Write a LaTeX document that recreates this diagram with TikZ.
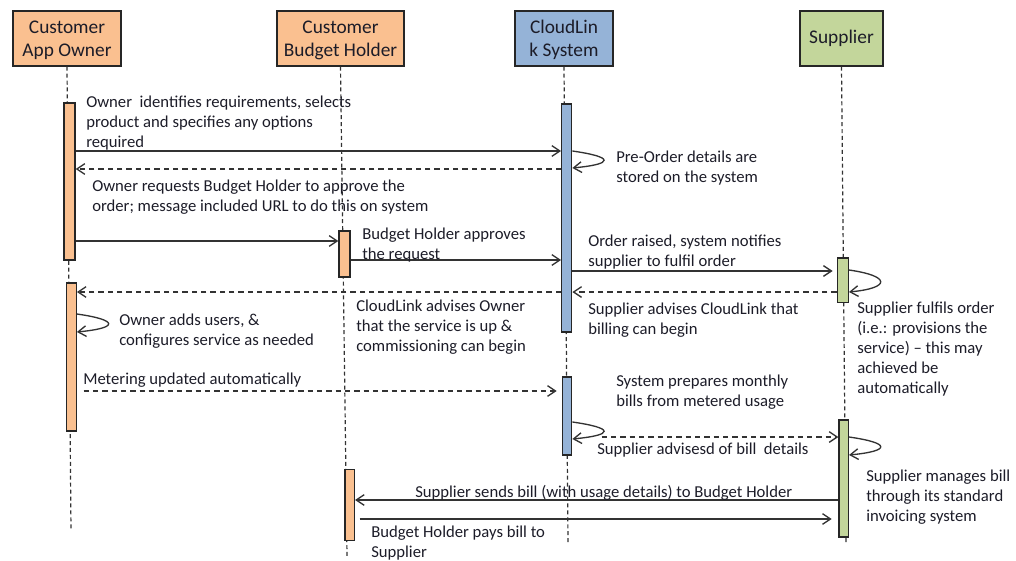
\documentclass[tikz,border=0pt]{standalone}
\usepackage{fontspec}
\setmainfont{Carlito}
\usetikzlibrary{arrows.meta,positioning,calc}
\definecolor{Oc}{HTML}{FAC090}
\definecolor{Bc}{HTML}{95B3D7}
\definecolor{Gc}{HTML}{C3D69B}
\definecolor{ink}{HTML}{333333}
\definecolor{txt}{HTML}{1C1C28}
\tikzset{
  party/.style={rectangle, draw=black!85, line width=1pt, inner sep=0pt, align=center,
    minimum height=41.25pt, font=\fontsize{14.5}{17.5}\selectfont, text=txt},
  actbar/.style={rectangle, draw=black!85, line width=1pt, inner sep=0pt},
  life/.style={draw=ink, line width=0.9pt, dash pattern=on 3pt off 2.2pt},
  msg/.style={draw=ink, line width=1pt, -{Straight Barb[length=6pt,width=8pt]}},
  rmsg/.style={msg, dash pattern=on 4pt off 3pt},
  lbl/.style={anchor=north west, inner sep=0pt, align=left,
    font=\fontsize{12.5}{15}\selectfont, text=txt},
}
\newcommand{\selfmsg}[3]{%
  \draw[msg] (#1.east |- 0,#2) .. controls +(42,6) and +(42,-4) .. (#1.east |- 0,#3);}

\begin{document}
\begin{tikzpicture}[x=0.75pt,y=-0.75pt]
  \useasboundingbox (0,0) rectangle (1016,560);
  % participants
  \node[party, fill=Oc, minimum width=81pt, text depth=0pt] (own) at (67,38.5) {Customer\\App Owner};
  \node[party, fill=Oc, minimum width=95.25pt, text depth=0pt] (bud) at (340.5,38.5) {Customer\\Budget Holder};
  \node[party, fill=Bc, minimum width=73.5pt, text depth=0pt] (cld) at (564,38.5) {CloudLin\\k System};
  \node[party, fill=Gc, minimum width=62.25pt] (sup) at (841.5,38.5) {Supplier};
  % lifelines
  \coordinate (ownEnd) at (71,531);
  \coordinate (budEnd) at (347,556);
  \coordinate (cldEnd) at (568,543);
  \coordinate (supEnd) at (846,545);
  \draw[life] (own.south) -- (ownEnd);
  \draw[life] (bud.south) -- (budEnd);
  \draw[life] (cld.south) -- (cldEnd);
  \draw[life] (sup.south) -- (supEnd);
  % activations
  \node[actbar, fill=Oc, minimum width=8.25pt, minimum height=117.75pt] (ob1) at (69.5,181.5) {};
  \node[actbar, fill=Oc, minimum width=7.1pt, minimum height=111pt] (ob2) at (71.5,357) {};
  \node[actbar, fill=Oc, minimum width=8.25pt, minimum height=34.5pt] (bb1) at (344.5,254) {};
  \node[actbar, fill=Oc, minimum width=7pt, minimum height=53.25pt] (bb2) at (349.7,505.3) {};
  \node[actbar, fill=Bc, minimum width=7.5pt, minimum height=171pt] (cb1) at (566.7,218) {};
  \node[actbar, fill=Bc, minimum width=6.75pt, minimum height=58.5pt] (cb2) at (567.2,416) {};
  \node[actbar, fill=Gc, minimum width=8.25pt, minimum height=33.5pt] (sb1) at (842.8,280.3) {};
  \node[actbar, fill=Gc, minimum width=7pt, minimum height=87.75pt] (sb2) at (843.7,478.5) {};
  % messages
  \draw[msg] (ob1.east |- 0,151) -- (cb1.west |- 0,151);
  \selfmsg{cb1}{151}{168}
  \draw[rmsg] (cb1.west |- 0,169) -- (ob1.east |- 0,169);
  \draw[msg] (ob1.east |- 0,241) -- (bb1.west |- 0,241);
  \draw[msg] (bb1.east |- 0,260) -- (cb1.west |- 0,260);
  \draw[msg, shorten >=3pt] (cb1.east |- 0,271) -- (sb1.west |- 0,271);
  \selfmsg{sb1}{270}{292}
  \draw[rmsg] (sb1.west |- 0,292) -- (cb1.east |- 0,292);
  \draw[rmsg] (cb1.west |- 0,292) -- (ob2.east |- 0,292);
  \selfmsg{ob2}{314}{332}
  \draw[rmsg, shorten <=5pt, shorten >=4pt] (ob2.east |- 0,391) -- (cb2.west |- 0,391);
  \selfmsg{cb2}{422}{439}
  \draw[rmsg, shorten <=22pt] (cb2.east |- 0,437) -- (sb2.west |- 0,437);
  \selfmsg{sb2}{437}{455}
  \draw[msg] (sb2.west |- 0,500) -- (bb2.east |- 0,500);
  \draw[msg, shorten <=3.5pt, shorten >=5pt] (bb2.east |- 0,519) -- (sb2.west |- 0,519);
  % labels
  \node[lbl] (tReq) at (86,96) {Owner\ \ identifies requirements, selects\\product and specifies any options\\required};
  \node[lbl] (tStore) at (616,151) {Pre-Order details are\\stored on the system};
  \node[lbl] (tAsk) at (92,180) {Owner requests Budget Holder to approve the\\order; message included URL to do this on system};
  \node[lbl] (tAppr) at (362,228) {Budget Holder approves\\the request};
  \node[lbl] (tOrder) at (588,235) {Order raised, system notifies\\supplier to fulfil order};
  \node[lbl] (tUp) at (356,300) {CloudLink advises Owner\\that the service is up \&\\commissioning can begin};
  \node[lbl] (tBill) at (588,303) {Supplier advises CloudLink that\\billing can begin};
  \node[lbl] (tFul) at (857,302) {Supplier fulfils order\\(i.e.: provisions the\\service) -- this may\\achieved be\\automatically};
  \node[lbl] (tUsers) at (119,314) {Owner adds users, \&\\configures service as needed};
  \node[lbl] (tMeter) at (83,373) {Metering updated automatically};
  \node[lbl] (tPrep) at (616,375) {System prepares monthly\\bills from metered usage};
  \node[lbl] (tAdv) at (597,443) {Supplier advisesd of bill\ \ details};
  \node[lbl] (tMan) at (866,470) {Supplier manages bill\\through its standard\\invoicing system};
  \node[lbl] (tSend) at (415,485) {Supplier sends bill (with usage details) to Budget Holder};
  \node[lbl] (tPay) at (371,526) {Budget Holder pays bill to\\Supplier};
\end{tikzpicture}
\end{document}
